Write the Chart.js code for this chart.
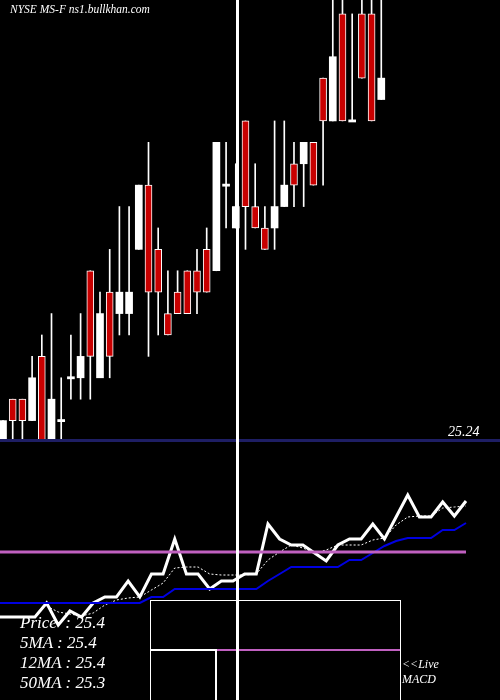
<!DOCTYPE html>
<html><head><meta charset="utf-8">
<script src="https://cdn.jsdelivr.net/npm/chart.js@4"></script>
<style>
body{margin:0;background:#000;width:500px;height:700px;overflow:hidden;position:relative;font-family:"Liberation Serif",serif;}
canvas{position:absolute;left:0}
.t{position:absolute;color:#fff;font-style:italic;white-space:nowrap}
</style></head><body>
<div style="position:absolute;left:0;top:0;width:500px;height:442px"><canvas id="c1"></canvas></div>
<div style="position:absolute;left:0;top:442px;width:500px;height:258px"><canvas id="c2"></canvas></div>
<div style="position:absolute;left:150px;top:600px;width:249px;height:110px;border:1px solid #fff"></div>
<div style="position:absolute;left:217px;top:649px;width:183px;height:2px;background:#c060c0"></div>
<div style="position:absolute;left:151px;top:649px;width:66px;height:2px;background:#fff"></div>
<div style="position:absolute;left:215px;top:649px;width:2px;height:51px;background:#fff"></div>
<div style="position:absolute;left:236px;top:0;width:3px;height:700px;background:#fff"></div>
<div class="t" style="left:10px;top:3px;font-size:11.5px">NYSE MS-F ns1.bullkhan.com</div>
<div class="t" style="left:448px;top:424px;font-size:14px">25.24</div>
<div class="t" style="left:20px;top:613px;font-size:17px">Price&nbsp; : 25.4</div>
<div class="t" style="left:20px;top:633px;font-size:17px">5MA : 25.4</div>
<div class="t" style="left:20px;top:653px;font-size:17px">12MA : 25.4</div>
<div class="t" style="left:20px;top:673px;font-size:17px">50MA : 25.3</div>
<div class="t" style="left:402px;top:657px;font-size:12px">&lt;&lt;Live</div>
<div class="t" style="left:402px;top:672px;font-size:12px">MACD</div>
<script>
const BASE = 25.24, TICK = 0.01;
// OHLC in ticks above 25.24
const opens  = [0,2,2,1,4,0,1,3,3,8,3,7,6,6,9,12,9,6,7,8,8,9,8,12,10,15,11,10,10,11,13,13,14,17,15,20,15,20,20,16];
const highs  = [1,2,2,4,5,6,3,5,6,8,7,9,11,11,12,14,10,8,8,8,9,10,14,14,13,15,13,11,15,15,14,14,14,17,21,21,20,21,21,21];
const lows   = [0,0,0,1,0,0,0,2,2,2,3,3,5,5,9,4,5,5,6,6,6,7,8,10,10,9,10,9,9,11,11,11,12,12,15,15,15,17,15,16];
const closes = [1,1,1,3,0,2,1,3,4,4,6,4,7,7,12,7,7,5,6,6,7,7,14,12,11,11,10,9,11,12,12,14,12,15,18,15,15,17,15,17];
const priceLine = [8.3,8.3,8.3,8.3,9.7,7.5,8.9,8.3,9.7,10.3,10.3,11.9,10.3,12.6,12.6,16.1,12.6,12.6,11.1,11.9,11.9,12.6,12.6,17.6,16.1,15.5,15.5,14.7,13.9,15.5,16.1,16.1,17.6,16.1,18.3,20.5,18.3,18.3,19.8,18.4,19.9];
const ma5 = [null,null,null,null,9.4,8.8,8.6,8.4,8.7,9.5,10.0,10.2,10.3,11.0,11.7,13.2,13.3,13.3,12.6,12.5,12.5,12.5,12.6,14.0,14.8,15.5,15.2,14.7,15.0,15.5,15.5,15.5,16.0,16.2,17.5,18.3,18.4,18.4,19.2,19.3,19.4];
const ma50 = [9.7,9.7,9.7,9.7,9.7,9.7,9.7,9.7,9.7,9.7,9.7,9.7,9.7,10.3,10.3,11.1,11.1,11.1,11.1,11.1,11.1,11.1,11.1,11.9,12.6,13.3,13.3,13.3,13.3,13.3,14.0,14.0,14.7,15.4,15.9,16.2,16.2,16.2,17.0,17.0,17.7];
const signal = 14.8;

const p = t => +(BASE + t*TICK).toFixed(4);
const bodies = closes.map((c,i)=>({x:i, y: c===opens[i] ? [p(c)-0.0005,p(c)+0.0005] : [p(Math.min(c,opens[i])), p(Math.max(c,opens[i]))]}));
const wicks = closes.map((c,i)=>({x:i, y:[p(lows[i]), p(highs[i])]}));
const basePlugin = {id:'base', afterDatasetsDraw(ch){const y=ch.scales.y.getPixelForValue(BASE);const c=ch.ctx;c.save();c.fillStyle='#1e1e64';c.fillRect(0,y-3,500,3);c.restore();}};
new Chart(document.getElementById('c1'),{
 type:'bar',
 data:{datasets:[
  {data:wicks, backgroundColor:'#fff', barThickness:1, grouped:false, order:2},
  {data:bodies, backgroundColor:closes.map((c,i)=>c>=opens[i]?'#fff':'#c80000'), borderColor:'#fff', borderWidth:closes.map((c,i)=>c>=opens[i]?0:1), borderSkipped:false, barThickness:7, grouped:false, order:1}
 ]},
 options:{responsive:true,maintainAspectRatio:false,animation:false,layout:{padding:0},
  plugins:{legend:{display:false},tooltip:{enabled:false}},
  scales:{x:{type:'linear',offset:false,min:-0.31,max:51.24,display:false},y:{min:BASE,max:BASE+20.65*TICK,display:false}}},
 plugins:[basePlugin]
});
const idx = priceLine.map((_,i)=>i);
const mk = a => a.map((v,i)=>({x:i,y:v}));
new Chart(document.getElementById('c2'),{
 type:'line',
 data:{datasets:[
  {data:idx.map(i=>({x:i,y:signal})), borderColor:'#c060c0', borderWidth:3, pointRadius:0},
  {data:mk(ma50), borderColor:'#0000e0', borderWidth:2, pointRadius:0},
  {data:mk(ma5), borderColor:'#fff', borderWidth:1, borderDash:[2,2], pointRadius:0},
  {data:mk(priceLine), borderColor:'#fff', borderWidth:3, pointRadius:0}
 ]},
 options:{responsive:true,maintainAspectRatio:false,animation:false,layout:{padding:0},
  plugins:{legend:{display:false},tooltip:{enabled:false}},
  scales:{x:{type:'linear',min:0,max:500/11.65,display:false},y:{min:0,max:25.8,display:false}}}
});
</script></body></html>
